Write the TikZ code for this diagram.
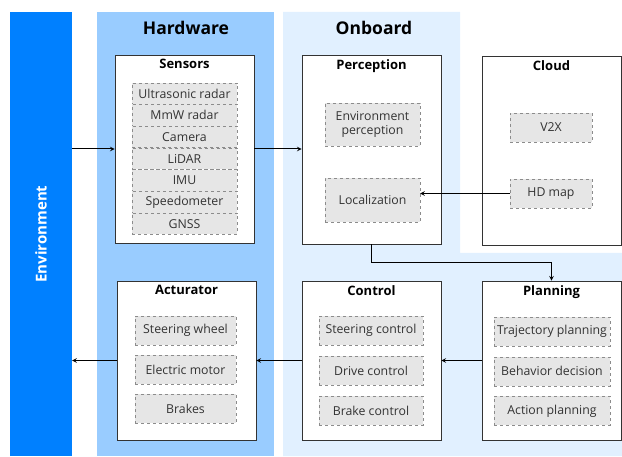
\documentclass[tikz,border=0pt]{standalone}
\usepackage{fontspec}
\setmainfont{Open Sans}
\usetikzlibrary{shapes.geometric, arrows}

\definecolor{envblue}{HTML}{0080FF}
\definecolor{hwblue}{HTML}{99CCFF}
\definecolor{obblue}{HTML}{E1F0FF}
\definecolor{itemgray}{HTML}{E6E6E6}
\definecolor{itemline}{HTML}{8C8C8C}

\tikzstyle{group} = [rectangle, minimum width=139pt, draw=black!80, line width=0.9pt, fill=white]
\tikzstyle{title} = [anchor=north, font=\bfseries\fontsize{13}{15}\selectfont, inner sep=0pt]
\tikzstyle{header} = [font=\bfseries\fontsize{17.5}{20}\selectfont]
\tikzstyle{item} = [rectangle, minimum height=29pt, draw=itemline, dashed, fill=itemgray, text=black!80, font=\fontsize{12.3}{14.5}\selectfont, align=center, inner sep=1pt]
\tikzstyle{sensor} = [item, minimum width=105pt, minimum height=21.5pt]
\tikzstyle{arrow} = [line width=1pt,->,>=stealth]

\begin{document}
\begin{tikzpicture}[x=1pt, y=1pt]

    \useasboundingbox (0,0) rectangle (622,456);

    % background panels
    \node (env) [rectangle, fill=envblue, minimum width=62pt, minimum height=444pt, inner sep=0pt] at (41,222) {};
    \node (envT) [rotate=90, text=white, font=\bfseries\fontsize{15}{17}\selectfont] at (41,222) {Environment};
    \fill[hwblue] (97,0) rectangle (274,444);
    \fill[obblue] (283,0) -- (283,444) -- (460,444) -- (460,203) -- (622,203) -- (622,0) -- cycle;
    \node (hardware) [header] at (186,428) {Hardware};
    \node (onboard) [header] at (374,428) {Onboard};

    % sensors
    \node (sensors) [group, minimum height=188pt] at (184.5,307) {};
    \node (sensorsT) [title] at ([yshift=-4.5pt]sensors.north) {Sensors};
    \begin{scope}[node distance=21.7pt]
        \node (s1) [sensor] at (184.5,362.5) {Ultrasonic radar};
        \node (s2) [sensor, below of=s1] {MmW radar};
        \node (s3) [sensor, below of=s2] {Camera};
        \node (s4) [sensor, below of=s3] {LiDAR};
        \node (s5) [sensor, below of=s4] {IMU};
        \node (s6) [sensor, below of=s5] {Speedometer};
        \node (s7) [sensor, below of=s6] {GNSS};
    \end{scope}

    % perception
    \node (perception) [group, minimum height=189pt] at (371.5,306.5) {};
    \node (perceptionT) [title] at ([yshift=-4.5pt]perception.north) {Perception};
    \node (envperc) [item, minimum width=95pt, minimum height=43pt] at (372.5,331.5) {Environment\\perception};
    \node (localization) [item, minimum width=95pt, minimum height=44pt] at (372.5,256) {Localization};

    % cloud
    \node (cloud) [group, minimum height=189pt] at (551.5,305.5) {};
    \node (cloudT) [title] at ([yshift=-4.5pt]cloud.north) {Cloud};
    \node (v2x) [item, minimum width=82pt] at (551,328.5) {V2X};
    \node (hdmap) [item, minimum width=82pt] at (551,262.5) {HD map};

    % actuator
    \node (actuator) [group, minimum height=159pt] at (186.5,95.5) {};
    \node (actuatorT) [title] at ([yshift=-4.5pt]actuator.north) {Acturator};
    \begin{scope}[node distance=39pt]
        \node (a1) [item, minimum width=101pt] at (185.5,125.5) {Steering wheel};
        \node (a2) [item, minimum width=101pt, below of=a1] {Electric motor};
        \node (a3) [item, minimum width=101pt, below of=a2] {Brakes};
    \end{scope}

    % control
    \node (control) [group, minimum height=159pt] at (371.5,95.5) {};
    \node (controlT) [title] at ([yshift=-4.5pt]control.north) {Control};
    \begin{scope}[node distance=40pt]
        \node (c1) [item, minimum width=104pt] at (371,125.5) {Steering control};
        \node (c2) [item, minimum width=104pt, below of=c1] {Drive control};
        \node (c3) [item, minimum width=104pt, below of=c2] {Brake control};
    \end{scope}

    % planning
    \node (planning) [group, minimum height=159pt] at (551.5,95.5) {};
    \node (planningT) [title] at ([yshift=-4.5pt]planning.north) {Planning};
    \begin{scope}[node distance=39.7pt]
        \node (p1) [item, minimum width=116pt] at (552,124.5) {Trajectory planning};
        \node (p2) [item, minimum width=116pt, below of=p1] {Behavior decision};
        \node (p3) [item, minimum width=116pt, below of=p2] {Action planning};
    \end{scope}

    % data flow
    \draw [arrow] (env.east |- sensors.west) -- (sensors.west);
    \draw [arrow] (sensors.east) -- (perception.west |- sensors.east);
    \draw [arrow] (hdmap.west) -- (hdmap.west -| localization.east);
    \draw [arrow] (perception.south) -- ++(0,-18) -| (planning.north);
    \draw [arrow] (planning.west) -- (control.east);
    \draw [arrow] (control.west) -- (actuator.east);
    \draw [arrow] (actuator.west) -- (env.east |- actuator.west);

\end{tikzpicture}
\end{document}
